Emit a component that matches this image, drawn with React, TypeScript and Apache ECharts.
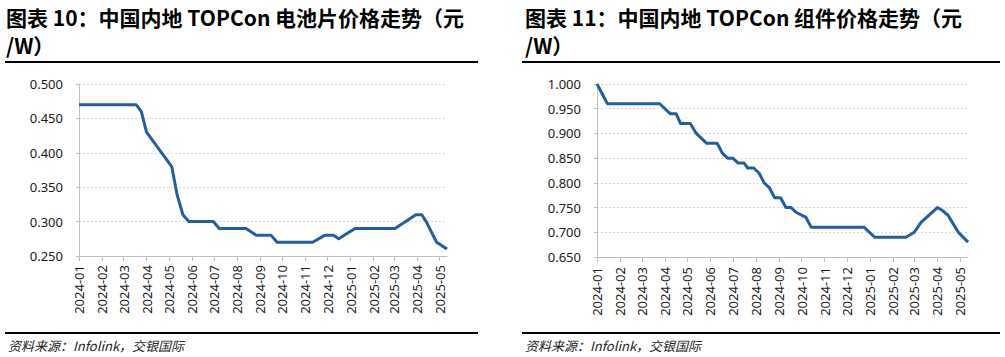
import React, { useEffect, useRef } from "react";
import * as echarts from "echarts";

// 图表 10：中国内地 TOPCon 电池片价格走势（元/W）
const cellDates = [
  "2024-01-01", "2024-03-18", "2024-03-25", "2024-04-01", "2024-05-05", "2024-05-12",
  "2024-05-20", "2024-05-28", "2024-06-30", "2024-07-08", "2024-08-13", "2024-08-27",
  "2024-09-16", "2024-09-24", "2024-11-11", "2024-11-27", "2024-12-09", "2024-12-16",
  "2025-01-07", "2025-03-02", "2025-03-30", "2025-04-07", "2025-04-13", "2025-04-27",
  "2025-05-11",
];
const cellPrices = [
  0.47, 0.47, 0.46, 0.43, 0.38, 0.34,
  0.31, 0.3, 0.3, 0.29, 0.29, 0.28,
  0.28, 0.27, 0.27, 0.28, 0.28, 0.275,
  0.29, 0.29, 0.31, 0.31, 0.3, 0.27,
  0.26,
];

// 图表 11：中国内地 TOPCon 组件价格走势（元/W）
const moduleDates = [
  "2024-01-01", "2024-01-15", "2024-03-25", "2024-04-08", "2024-04-16", "2024-04-22",
  "2024-05-05", "2024-05-13", "2024-05-27", "2024-06-10", "2024-06-17", "2024-06-24",
  "2024-07-01", "2024-07-08", "2024-07-16", "2024-07-21", "2024-07-29", "2024-08-05",
  "2024-08-12", "2024-08-19", "2024-08-26", "2024-09-03", "2024-09-10", "2024-09-17",
  "2024-09-24", "2024-10-07", "2024-10-14", "2024-12-24", "2025-01-07", "2025-02-18",
  "2025-03-01", "2025-03-10", "2025-04-01", "2025-04-07", "2025-04-15", "2025-04-21",
  "2025-04-29", "2025-05-12",
];
const modulePrices = [
  1.0, 0.96, 0.96, 0.94, 0.94, 0.92,
  0.92, 0.9, 0.88, 0.88, 0.86, 0.85,
  0.85, 0.84, 0.84, 0.83, 0.83, 0.82,
  0.8, 0.79, 0.77, 0.77, 0.75, 0.75,
  0.74, 0.73, 0.71, 0.71, 0.69, 0.69,
  0.7, 0.72, 0.75, 0.745, 0.735, 0.72,
  0.7, 0.68,
];

const cellTitle = "图表 10：中国内地 TOPCon 电池片价格走势（元\n/W）";
const moduleTitle = "图表 11：中国内地 TOPCon 组件价格走势（元\n/W）";
const sourceText = "资料来源：Infolink，交银国际";

const cellYRange = [0.25, 0.5];
const moduleYRange = [0.65, 1.0];
const yStep = 0.05;

const LINE_COLOR = "#255E9F";
const AXIS_COLOR = "#BFBFBF";
const GRID_COLOR = "#D9D9D9";
const LABEL_FONT = "Noto Sans";
const CJK_FONT = "Noto Sans CJK SC";
const DAY = 86400000;

function xAxisCfg(gridIndex: number, min: string, max: string, margin: number) {
  return {
    type: "time",
    gridIndex,
    min,
    max,
    splitNumber: 17,
    minInterval: 28 * DAY,
    maxInterval: 31 * DAY,
    axisLine: { show: true, lineStyle: { color: AXIS_COLOR, width: 1 } },
    axisTick: { show: true, length: 5, lineStyle: { color: AXIS_COLOR } },
    splitLine: { show: false },
    axisLabel: {
      rotate: 90,
      margin,
      formatter: "{yyyy}-{MM}",
      color: "#1a1a1a",
      fontSize: 13,
      fontFamily: LABEL_FONT,
      showMaxLabel: false,
      hideOverlap: false,
    },
  };
}

function yAxisCfg(gridIndex: number, range: number[]) {
  return {
    type: "value",
    gridIndex,
    min: range[0],
    max: range[1],
    interval: yStep,
    axisLine: { show: true, lineStyle: { color: AXIS_COLOR, width: 1 } },
    axisTick: { show: true, length: 3, lineStyle: { color: AXIS_COLOR } },
    splitLine: { show: true, lineStyle: { color: GRID_COLOR, type: [2, 2], width: 1 } },
    axisLabel: {
      margin: 16,
      color: "#1a1a1a",
      fontSize: 13,
      fontFamily: LABEL_FONT,
      formatter: (v: number) => v.toFixed(3),
    },
  };
}

export default function App() {
  const ref = useRef<HTMLDivElement>(null);
  useEffect(() => {
    if (!ref.current) return;
    const chart = echarts.init(ref.current, null, { renderer: "svg" });
    const titleStyle = {
      fontSize: 21,
      fontWeight: "bold",
      fontFamily: CJK_FONT,
      lineHeight: 28,
      fill: "#000",
    };
    const sourceStyle = {
      fontSize: 13,
      fontStyle: "italic",
      fontFamily: CJK_FONT,
      fill: "#222",
    };
    chart.setOption({
      animation: false,
      backgroundColor: "#fff",
      grid: [
        { left: 79, top: 84, width: 368, height: 172, containLabel: false, outerBoundsMode: "none" },
        { left: 597, top: 84, width: 371, height: 173, containLabel: false, outerBoundsMode: "none" },
      ],
      xAxis: [
        xAxisCfg(0, cellDates[0], cellDates[cellDates.length - 1], 9),
        xAxisCfg(1, moduleDates[0], moduleDates[moduleDates.length - 1], 10),
      ],
      yAxis: [yAxisCfg(0, cellYRange), yAxisCfg(1, moduleYRange)],
      series: [
        {
          type: "line",
          xAxisIndex: 0,
          yAxisIndex: 0,
          data: cellDates.map((d, i) => [d, cellPrices[i]]),
          showSymbol: false,
          lineStyle: { color: LINE_COLOR, width: 3, join: "round" },
          itemStyle: { color: LINE_COLOR },
        },
        {
          type: "line",
          xAxisIndex: 1,
          yAxisIndex: 1,
          data: moduleDates.map((d, i) => [d, modulePrices[i]]),
          showSymbol: false,
          lineStyle: { color: LINE_COLOR, width: 3, join: "round" },
          itemStyle: { color: LINE_COLOR },
        },
      ],
      graphic: [
        { type: "text", left: 6, top: 3, style: { text: cellTitle, ...titleStyle } },
        { type: "text", left: 525, top: 3, style: { text: moduleTitle, ...titleStyle } },
        { type: "line", shape: { x1: 5, y1: 62, x2: 478, y2: 62 }, style: { stroke: "#000", lineWidth: 2 } },
        { type: "line", shape: { x1: 522, y1: 62, x2: 1000, y2: 62 }, style: { stroke: "#000", lineWidth: 2 } },
        { type: "line", shape: { x1: 5, y1: 333, x2: 478, y2: 333 }, style: { stroke: "#000", lineWidth: 2 } },
        { type: "line", shape: { x1: 522, y1: 333, x2: 1000, y2: 333 }, style: { stroke: "#000", lineWidth: 2 } },
        { type: "text", left: 8, top: 339, style: { text: sourceText, ...sourceStyle } },
        { type: "text", left: 525, top: 339, style: { text: sourceText, ...sourceStyle } },
      ],
    });
    return () => chart.dispose();
  }, []);
  return (
    <div
      ref={ref}
      style={{ position: "absolute", left: 0, top: 0, width: 1005, height: 357 }}
    />
  );
}
